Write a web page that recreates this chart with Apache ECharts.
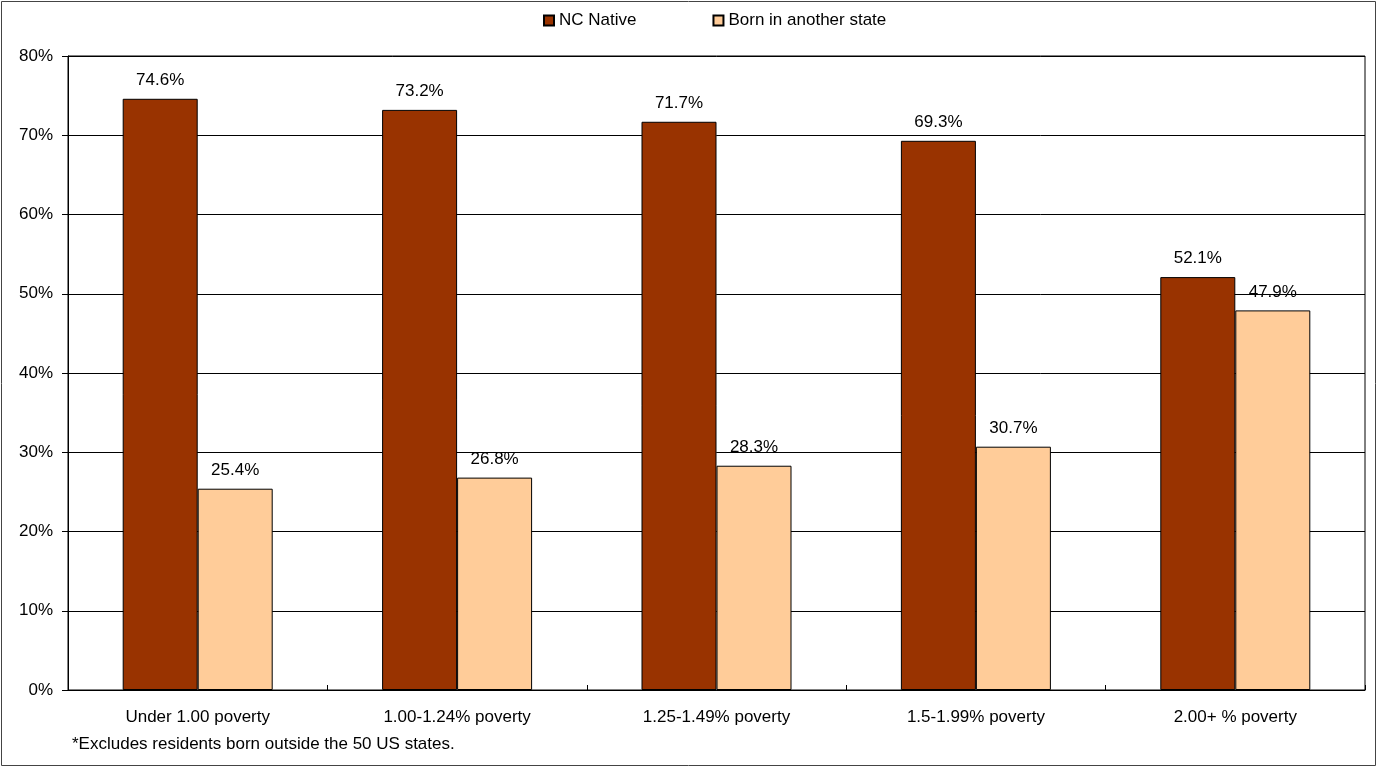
<!DOCTYPE html>
<html>
<head>
<meta charset="utf-8">
<script src="https://cdn.jsdelivr.net/npm/echarts@6/dist/echarts.min.js"></script>
<style>html,body{margin:0;padding:0;background:#fff;}#c{width:1377px;height:768px;}</style>
</head>
<body>
<div id="c"></div>
<script>
var categories = ['Under 1.00 poverty', '1.00-1.24% poverty', '1.25-1.49% poverty', '1.5-1.99% poverty', '2.00+ % poverty'];
var ncNative = [74.6, 73.2, 71.7, 69.3, 52.1];
var bornOther = [25.4, 26.8, 28.3, 30.7, 47.9];
var seriesNames = ['NC Native', 'Born in another state'];
var footnote = '*Excludes residents born outside the 50 US states.';

var font = 'Arial, "Liberation Sans", sans-serif';
var fs = 17;
var chart = echarts.init(document.getElementById('c'));
chart.setOption({
  animation: false,
  backgroundColor: '#fff',
  textStyle: {fontFamily: font, color: '#000'},
  legend: {
    top: 7, left: 538, itemWidth: 10, itemHeight: 10, itemGap: 76,
    icon: 'rect',
    textStyle: {fontFamily: font, fontSize: fs, color: '#000'},
    data: seriesNames
  },
  grid: {left: 68, right: 12, top: 56, bottom: 78, containLabel: false, show: true, borderColor: '#000', borderWidth: 1},
  xAxis: {
    type: 'category', data: categories,
    axisLine: {lineStyle: {color: '#000', width: 1}},
    axisTick: {show: true, inside: true, length: 5, lineStyle: {color: '#000'}},
    axisLabel: {fontFamily: font, fontSize: fs, color: '#000', margin: 19}
  },
  yAxis: {
    type: 'value', min: 0, max: 80, interval: 10,
    axisLine: {show: true, lineStyle: {color: '#000', width: 1}},
    axisTick: {show: true, length: 6, lineStyle: {color: '#000'}},
    axisLabel: {fontFamily: font, fontSize: fs, color: '#000', margin: 15, formatter: '{value}%'},
    splitLine: {show: true, lineStyle: {color: '#000', width: 1}}
  },
  series: [
    {
      name: seriesNames[0], type: 'bar', data: ncNative, barWidth: 75, barGap: '0%',
      itemStyle: {color: '#993300', borderColor: '#000', borderWidth: 1},
      label: {show: true, position: 'top', distance: 10, fontFamily: font, fontSize: fs, color: '#000', formatter: function(p){return p.value.toFixed(1) + '%';}}
    },
    {
      name: seriesNames[1], type: 'bar', data: bornOther, barWidth: 75,
      itemStyle: {color: '#FFCC99', borderColor: '#000', borderWidth: 1},
      label: {show: true, position: 'top', distance: 10, fontFamily: font, fontSize: fs, color: '#000', formatter: function(p){return p.value.toFixed(1) + '%';}}
    }
  ],
  graphic: [
    {type: 'rect', shape: {x: 1.5, y: 1.5, width: 1374, height: 764}, style: {fill: 'none', stroke: '#444', lineWidth: 1}, silent: true, z: -1},
    {type: 'text', left: 72, top: 736, style: {text: footnote, fontFamily: font, fontSize: fs, fill: '#000'}}
  ]
});
</script>
</body>
</html>
